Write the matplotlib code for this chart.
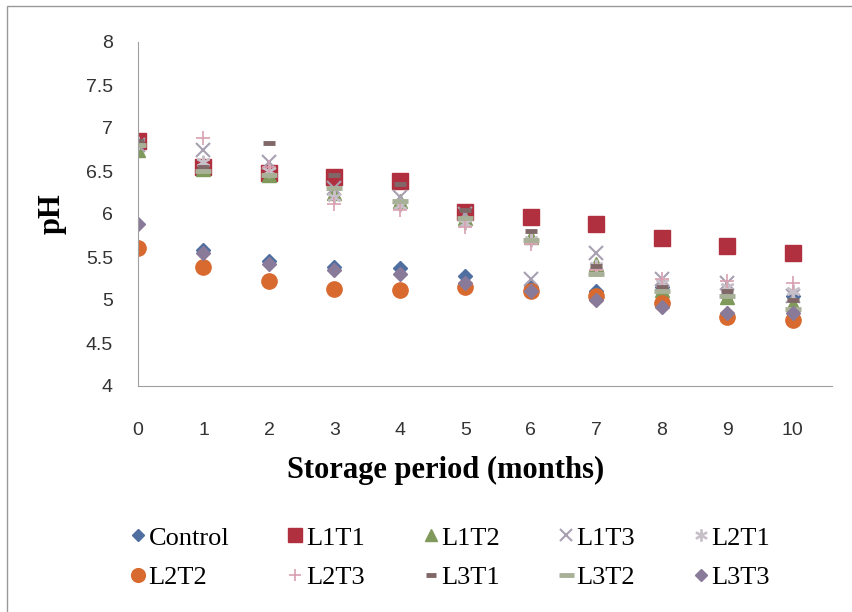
import matplotlib
matplotlib.use("Agg")
import matplotlib.pyplot as plt
from matplotlib.patches import Rectangle

months = [0, 1, 2, 3, 4, 5, 6, 7, 8, 9, 10]
series_names = ["Control", "L1T1", "L1T2", "L1T3", "L2T1", "L2T2", "L2T3", "L3T1", "L3T2", "L3T3"]
control = [5.62, 5.58, 5.45, 5.38, 5.37, 5.28, 5.15, 5.10, 5.15, 5.05, 5.05]
l1t1 = [6.85, 6.55, 6.48, 6.43, 6.38, 6.02, 5.97, 5.88, 5.72, 5.63, 5.55]
l1t2 = [6.75, 6.52, 6.45, 6.25, 6.15, 5.95, 5.73, 5.42, 5.12, 5.03, 4.95]
l1t3 = [6.80, 6.75, 6.60, 6.30, 6.20, 6.00, 5.25, 5.55, 5.25, 5.20, 5.05]
l2t1 = [6.82, 6.60, 6.50, 6.20, 6.10, 5.90, 5.70, 5.40, 5.20, 5.15, 5.10]
l2t2 = [5.60, 5.38, 5.22, 5.13, 5.12, 5.15, 5.10, 5.05, 4.97, 4.80, 4.77]
l2t3 = [6.80, 6.88, 6.55, 6.12, 6.05, 5.85, 5.65, 5.35, 5.25, 5.22, 5.20]
l3t1 = [6.85, 6.55, 6.82, 6.45, 6.35, 6.05, 5.80, 5.40, 5.15, 5.10, 5.00]
l3t2 = [6.80, 6.50, 6.45, 6.30, 6.15, 5.95, 5.70, 5.30, 5.10, 5.05, 4.90]
l3t3 = [5.88, 5.55, 5.42, 5.35, 5.30, 5.20, 5.10, 5.00, 4.92, 4.85, 4.85]
y_ticks = [4, 4.5, 5, 5.5, 6, 6.5, 7, 7.5, 8]
y_tick_labels = ["4", "4.5", "5", "5.5", "6", "6.5", "7", "7.5", "8"]

data = [control, l1t1, l1t2, l1t3, l2t1, l2t2, l2t3, l3t1, l3t2, l3t3]
styles = [
    dict(marker="D", color="#4F6FA0", ms=7),
    dict(marker="s", color="#B0303F", ms=11),
    dict(marker="^", color="#7F9A5A", ms=10),
    dict(marker="x", color="#A8A0B0", ms=10, mew=1.5),
    dict(marker="$*$", color="#C8C0C8", ms=9),
    dict(marker="o", color="#D86A30", ms=11),
    dict(marker="+", color="#D8A0B0", ms=10, mew=1.2),
    dict(marker="_", color="#806868", ms=8, mew=3.5),
    dict(marker="_", color="#A8B098", ms=12, mew=3.5),
    dict(marker="D", color="#8A7A9A", ms=7),
]

fig = plt.figure(figsize=(8.52, 6.12), dpi=100)
ax = fig.add_axes([138/852, 1-386/612, (832-138)/852, (386-42)/612])

handles = []
for name, vals, st in zip(series_names, data, styles):
    h, = ax.plot(months, vals, linestyle="none", marker=st["marker"], color=st["color"],
                 markersize=st["ms"], markeredgewidth=st.get("mew", 1.0), label=name)
    handles.append(h)

ax.set_xlim(0, 10.6)
ax.set_ylim(4, 8)
ax.set_xticks(months)
ax.set_xticklabels([str(m) for m in months], fontfamily="Liberation Sans", fontsize=14, color="#333333")
ax.set_yticks(y_ticks)
ax.set_yticklabels(y_tick_labels, fontfamily="Liberation Sans", fontsize=14, color="#333333")
ax.tick_params(axis="x", length=0, pad=26)
ax.tick_params(axis="y", length=0, pad=18)
for s in ["top", "right"]:
    ax.spines[s].set_visible(False)
ax.spines["left"].set_color("#a0a0a0")
ax.spines["bottom"].set_color("#a0a0a0")

ax.set_xlabel("Storage period (months)", fontfamily="Liberation Serif", fontweight="bold", fontsize=22)
ax.xaxis.set_label_coords((446-138)/694, -(470-386)/344, transform=ax.transAxes)
ax.xaxis.label.set_va("center")
ax.set_ylabel("pH", fontfamily="Liberation Serif", fontweight="bold", fontsize=22)
ax.yaxis.set_label_coords(-(138-52)/694, 0.5, transform=ax.transAxes)
ax.yaxis.label.set_va("center")

# row-wise legend order for 5 columns x 2 rows
order = [0, 5, 1, 6, 2, 7, 3, 8, 4, 9]
fig.legend([handles[i] for i in order], [series_names[i] for i in order],
           loc="center", bbox_to_anchor=(0.527, 0.089), ncol=5, frameon=False,
           prop={"family": "Liberation Serif", "size": 19}, handletextpad=0.0,
           columnspacing=2.1, handlelength=0.8, markerscale=0.9, labelspacing=0.6)

fig.patches.append(Rectangle((0.008, -0.01), 1.0, 1.0, transform=fig.transFigure,
                             fill=False, edgecolor="#999999", linewidth=1))

fig.savefig("out.png", dpi=100)
